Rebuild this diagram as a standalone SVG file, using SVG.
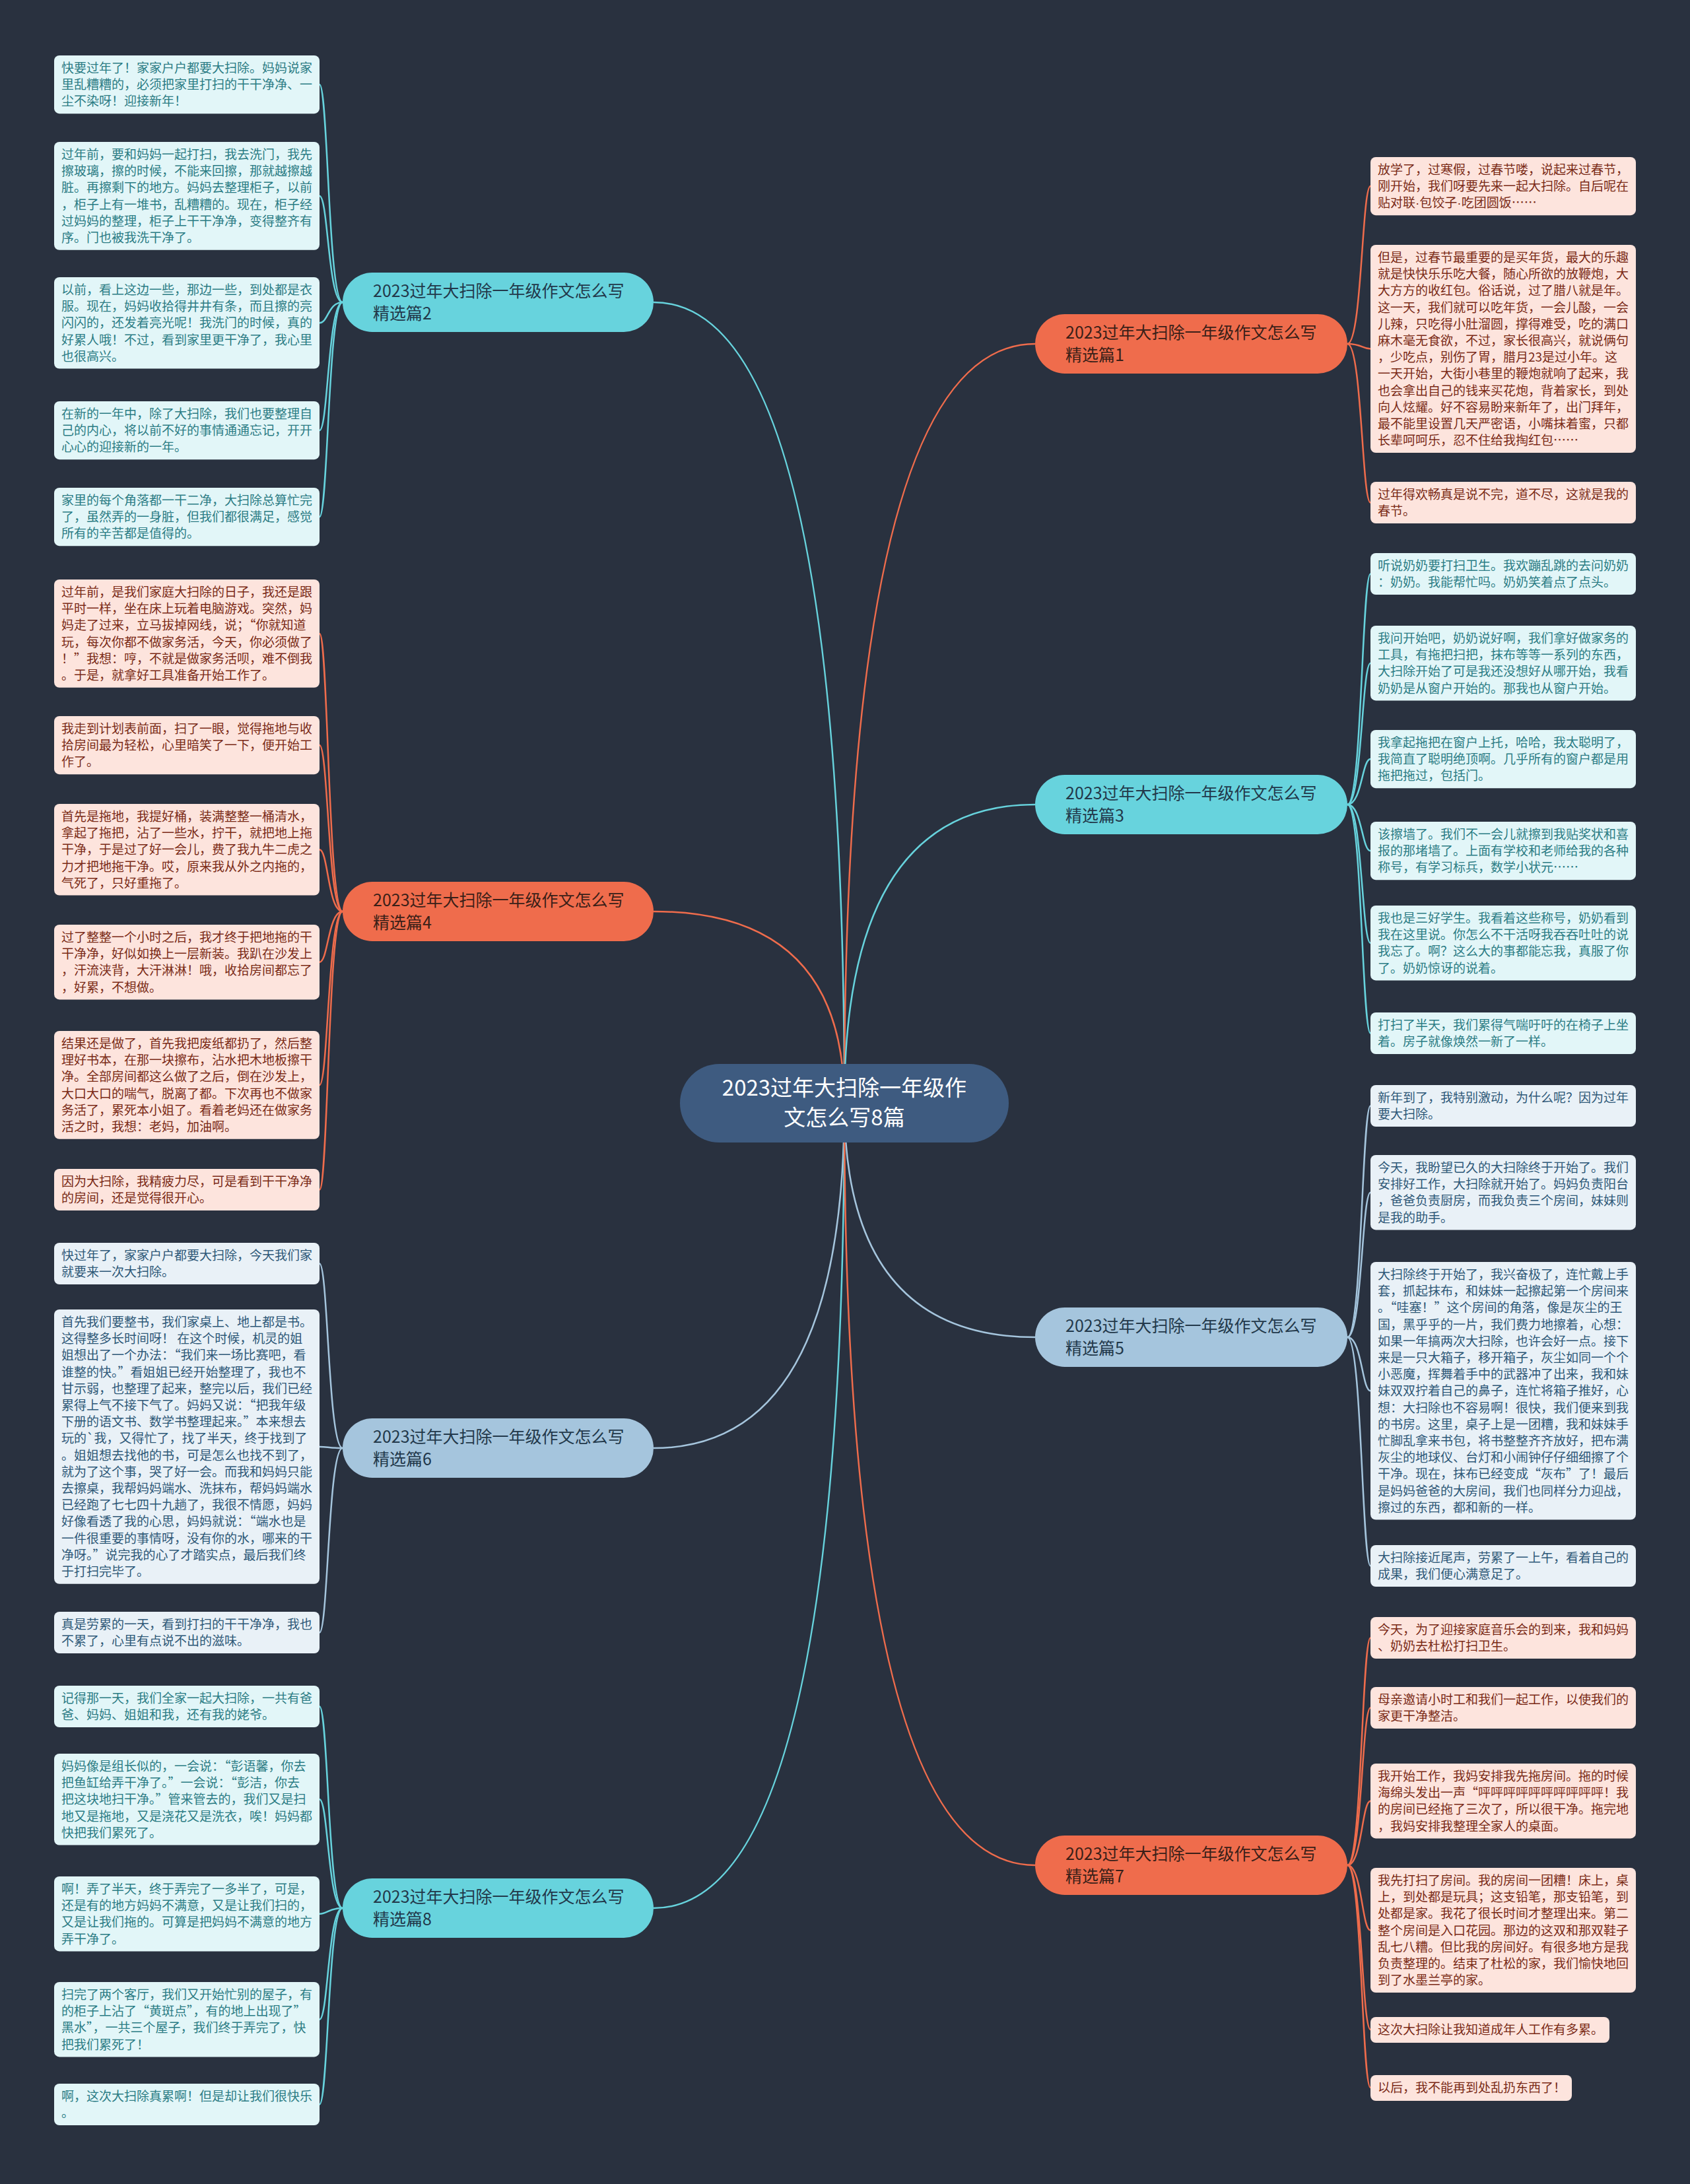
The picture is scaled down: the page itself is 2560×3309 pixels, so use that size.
<svg xmlns="http://www.w3.org/2000/svg" width="2560" height="3309" viewBox="0 0 2560 3309">
<style>
.t{font-family:"Noto Sans CJK SC","Noto Sans",sans-serif;font-size:19px}
.bt{font-family:"Noto Sans CJK SC","Noto Sans",sans-serif;font-size:25px}
.lc rect{fill:#e2f6f8}.lc text{fill:#2b7c84}
.lo rect{fill:#fde4dd}.lo text{fill:#7a2a16}
.lb rect{fill:#e9f1f7}.lb text{fill:#2e5877}
.bc rect{fill:#67d3dd}.bo rect{fill:#ef6c4c}.bb rect{fill:#a5c5dd}
.bc text,.bb text{fill:#22384a}.bo text{fill:#3a1f18}
.cn path{fill:none;stroke-width:2.5}
.cc{stroke:#67d3dd}.co{stroke:#ef6c4c}.cb{stroke:#a5c5dd}
.dot{font-family:"Liberation Sans",sans-serif}
</style>
<rect width="2560" height="3309" fill="#29313f"/>
<g id="connectors" class="cn">
<path class="cc" d="M1279,1671 Q1279,458 990,458"/>
<path class="co" d="M1279,1671 Q1279,1381 990,1381"/>
<path class="cb" d="M1279,1671 Q1279,2194 990,2194"/>
<path class="cc" d="M1279,1671 Q1279,2891 990,2891"/>
<path class="co" d="M1279,1671 Q1279,521 1568,521"/>
<path class="cc" d="M1279,1671 Q1279,1219 1568,1219"/>
<path class="cb" d="M1279,1671 Q1279,2026 1568,2026"/>
<path class="co" d="M1279,1671 Q1279,2826 1568,2826"/>
<path class="cc" d="M519,458 C497,458 497,128.1 484,128.1"/>
<path class="cc" d="M519,458 C497,458 497,296.9 484,296.9"/>
<path class="cc" d="M519,458 C497,458 497,489.3 484,489.3"/>
<path class="cc" d="M519,458 C497,458 497,652.1 484,652.1"/>
<path class="cc" d="M519,458 C497,458 497,783.1 484,783.1"/>
<path class="co" d="M519,1381 C497,1381 497,959.9 484,959.9"/>
<path class="co" d="M519,1381 C497,1381 497,1129.1 484,1129.1"/>
<path class="co" d="M519,1381 C497,1381 497,1287.3 484,1287.3"/>
<path class="co" d="M519,1381 C497,1381 497,1457.7 484,1457.7"/>
<path class="co" d="M519,1381 C497,1381 497,1643.9 484,1643.9"/>
<path class="co" d="M519,1381 C497,1381 497,1802.5 484,1802.5"/>
<path class="cb" d="M519,2194 C497,2194 497,1914.5 484,1914.5"/>
<path class="cb" d="M519,2194 C497,2194 497,2191.9 484,2191.9"/>
<path class="cb" d="M519,2194 C497,2194 497,2473.5 484,2473.5"/>
<path class="cc" d="M519,2891 C497,2891 497,2585.5 484,2585.5"/>
<path class="cc" d="M519,2891 C497,2891 497,2726.3 484,2726.3"/>
<path class="cc" d="M519,2891 C497,2891 497,2899.7 484,2899.7"/>
<path class="cc" d="M519,2891 C497,2891 497,3059.7 484,3059.7"/>
<path class="cc" d="M519,2891 C497,2891 497,3188.5 484,3188.5"/>
<path class="co" d="M2041,521 C2063,521 2063,282.1 2076,282.1"/>
<path class="co" d="M2041,521 C2063,521 2063,528.5 2076,528.5"/>
<path class="co" d="M2041,521 C2063,521 2063,761.5 2076,761.5"/>
<path class="cc" d="M2041,1219 C2063,1219 2063,869.5 2076,869.5"/>
<path class="cc" d="M2041,1219 C2063,1219 2063,1004.7 2076,1004.7"/>
<path class="cc" d="M2041,1219 C2063,1219 2063,1150.1 2076,1150.1"/>
<path class="cc" d="M2041,1219 C2063,1219 2063,1289.1 2076,1289.1"/>
<path class="cc" d="M2041,1219 C2063,1219 2063,1428.7 2076,1428.7"/>
<path class="cc" d="M2041,1219 C2063,1219 2063,1565.5 2076,1565.5"/>
<path class="cb" d="M2041,2026 C2063,2026 2063,1675.5 2076,1675.5"/>
<path class="cb" d="M2041,2026 C2063,2026 2063,1806.7 2076,1806.7"/>
<path class="cb" d="M2041,2026 C2063,2026 2063,2107.3 2076,2107.3"/>
<path class="cb" d="M2041,2026 C2063,2026 2063,2372.5 2076,2372.5"/>
<path class="co" d="M2041,2826 C2063,2826 2063,2481.5 2076,2481.5"/>
<path class="co" d="M2041,2826 C2063,2826 2063,2587.5 2076,2587.5"/>
<path class="co" d="M2041,2826 C2063,2826 2063,2728.7 2076,2728.7"/>
<path class="co" d="M2041,2826 C2063,2826 2063,2924.5 2076,2924.5"/>
<path class="co" d="M2041,2826 C2063,2826 2063,3075 2076,3075"/>
<path class="co" d="M2041,2826 C2063,2826 2063,3163 2076,3163"/>
</g>

<g id="center"><rect x="1030" y="1612" width="498" height="119" rx="59.5" fill="#3e5b80"/>
<text font-family="Noto Sans CJK SC, Noto Sans, sans-serif" font-size="33" fill="#ffffff" text-anchor="middle"><tspan x="1279" y="1660">2023过年大扫除一年级作</tspan><tspan x="1279" y="1705">文怎么写8篇</tspan></text></g>

<g id="b2" class="bc"><rect x="519" y="413" width="471" height="90" rx="45"/><text class="bt"><tspan x="565" y="450">2023过年大扫除一年级作文怎么写</tspan><tspan x="565" y="484">精选篇2</tspan></text></g>
<g id="b4" class="bo"><rect x="519" y="1336" width="471" height="90" rx="45"/><text class="bt"><tspan x="565" y="1373">2023过年大扫除一年级作文怎么写</tspan><tspan x="565" y="1407">精选篇4</tspan></text></g>
<g id="b6" class="bb"><rect x="519" y="2149" width="471" height="90" rx="45"/><text class="bt"><tspan x="565" y="2186">2023过年大扫除一年级作文怎么写</tspan><tspan x="565" y="2220">精选篇6</tspan></text></g>
<g id="b8" class="bc"><rect x="519" y="2846" width="471" height="90" rx="45"/><text class="bt"><tspan x="565" y="2883">2023过年大扫除一年级作文怎么写</tspan><tspan x="565" y="2917">精选篇8</tspan></text></g>
<g id="b1" class="bo"><rect x="1568" y="476" width="473" height="90" rx="45"/><text class="bt"><tspan x="1614" y="513">2023过年大扫除一年级作文怎么写</tspan><tspan x="1614" y="547">精选篇1</tspan></text></g>
<g id="b3" class="bc"><rect x="1568" y="1174" width="473" height="90" rx="45"/><text class="bt"><tspan x="1614" y="1211">2023过年大扫除一年级作文怎么写</tspan><tspan x="1614" y="1245">精选篇3</tspan></text></g>
<g id="b5" class="bb"><rect x="1568" y="1981" width="473" height="90" rx="45"/><text class="bt"><tspan x="1614" y="2018">2023过年大扫除一年级作文怎么写</tspan><tspan x="1614" y="2052">精选篇5</tspan></text></g>
<g id="b7" class="bo"><rect x="1568" y="2781" width="473" height="90" rx="45"/><text class="bt"><tspan x="1614" y="2818">2023过年大扫除一年级作文怎么写</tspan><tspan x="1614" y="2852">精选篇7</tspan></text></g>

<g id="l2a" class="lc"><rect x="82" y="84" width="402" height="88.2" rx="8"/><text class="t" y="110"><tspan x="93">快要过年了！家家户户都要大扫除。妈妈说家</tspan><tspan x="93" dy="25.2">里乱糟糟的，必须把家里打扫的干干净净、一</tspan><tspan x="93" dy="25.2">尘不染呀！迎接新年！</tspan></text></g>
<g id="l2b" class="lc"><rect x="82" y="215" width="402" height="163.8" rx="8"/><text class="t" y="241"><tspan x="93">过年前，要和妈妈一起打扫，我去洗门，我先</tspan><tspan x="93" dy="25.2">擦玻璃，擦的时候，不能来回擦，那就越擦越</tspan><tspan x="93" dy="25.2">脏。再擦剩下的地方。妈妈去整理柜子，以前</tspan><tspan x="93" dy="25.2">，柜子上有一堆书，乱糟糟的。现在，柜子经</tspan><tspan x="93" dy="25.2">过妈妈的整理，柜子上干干净净，变得整齐有</tspan><tspan x="93" dy="25.2">序。门也被我洗干净了。</tspan></text></g>
<g id="l2c" class="lc"><rect x="82" y="420" width="402" height="138.6" rx="8"/><text class="t" y="446"><tspan x="93">以前，看上这边一些，那边一些，到处都是衣</tspan><tspan x="93" dy="25.2">服。现在，妈妈收拾得井井有条，而且擦的亮</tspan><tspan x="93" dy="25.2">闪闪的，还发着亮光呢！我洗门的时候，真的</tspan><tspan x="93" dy="25.2">好累人哦！不过，看到家里更干净了，我心里</tspan><tspan x="93" dy="25.2">也很高兴。</tspan></text></g>
<g id="l2d" class="lc"><rect x="82" y="608" width="402" height="88.2" rx="8"/><text class="t" y="634"><tspan x="93">在新的一年中，除了大扫除，我们也要整理自</tspan><tspan x="93" dy="25.2">己的内心，将以前不好的事情通通忘记，开开</tspan><tspan x="93" dy="25.2">心心的迎接新的一年。</tspan></text></g>
<g id="l2e" class="lc"><rect x="82" y="739" width="402" height="88.2" rx="8"/><text class="t" y="765"><tspan x="93">家里的每个角落都一干二净，大扫除总算忙完</tspan><tspan x="93" dy="25.2">了，虽然弄的一身脏，但我们都很满足，感觉</tspan><tspan x="93" dy="25.2">所有的辛苦都是值得的。</tspan></text></g>

<g id="l4a" class="lo"><rect x="82" y="878" width="402" height="163.8" rx="8"/><text class="t" y="904"><tspan x="93">过年前，是我们家庭大扫除的日子，我还是跟</tspan><tspan x="93" dy="25.2">平时一样，坐在床上玩着电脑游戏。突然，妈</tspan><tspan x="93" dy="25.2">妈走了过来，立马拔掉网线，说；“你就知道</tspan><tspan x="93" dy="25.2">玩，每次你都不做家务活，今天，你必须做了</tspan><tspan x="93" dy="25.2">！”我想：哼，不就是做家务活呗，难不倒我</tspan><tspan x="93" dy="25.2">。于是，就拿好工具准备开始工作了。</tspan></text></g>
<g id="l4b" class="lo"><rect x="82" y="1085" width="402" height="88.2" rx="8"/><text class="t" y="1111"><tspan x="93">我走到计划表前面，扫了一眼，觉得拖地与收</tspan><tspan x="93" dy="25.2">拾房间最为轻松，心里暗笑了一下，便开始工</tspan><tspan x="93" dy="25.2">作了。</tspan></text></g>
<g id="l4c" class="lo"><rect x="82" y="1218" width="402" height="138.6" rx="8"/><text class="t" y="1244"><tspan x="93">首先是拖地，我提好桶，装满整整一桶清水，</tspan><tspan x="93" dy="25.2">拿起了拖把，沾了一些水，拧干，就把地上拖</tspan><tspan x="93" dy="25.2">干净，于是过了好一会儿，费了我九牛二虎之</tspan><tspan x="93" dy="25.2">力才把地拖干净。哎，原来我从外之内拖的，</tspan><tspan x="93" dy="25.2">气死了，只好重拖了。</tspan></text></g>
<g id="l4d" class="lo"><rect x="82" y="1401" width="402" height="113.4" rx="8"/><text class="t" y="1427"><tspan x="93">过了整整一个小时之后，我才终于把地拖的干</tspan><tspan x="93" dy="25.2">干净净，好似如换上一层新装。我趴在沙发上</tspan><tspan x="93" dy="25.2">，汗流浃背，大汗淋淋！哦，收拾房间都忘了</tspan><tspan x="93" dy="25.2">，好累，不想做。</tspan></text></g>
<g id="l4e" class="lo"><rect x="82" y="1562" width="402" height="163.8" rx="8"/><text class="t" y="1588"><tspan x="93">结果还是做了，首先我把废纸都扔了，然后整</tspan><tspan x="93" dy="25.2">理好书本，在那一块擦布，沾水把木地板擦干</tspan><tspan x="93" dy="25.2">净。全部房间都这么做了之后，倒在沙发上，</tspan><tspan x="93" dy="25.2">大口大口的喘气，脱离了都。下次再也不做家</tspan><tspan x="93" dy="25.2">务活了，累死本小姐了。看着老妈还在做家务</tspan><tspan x="93" dy="25.2">活之时，我想：老妈，加油啊。</tspan></text></g>
<g id="l4f" class="lo"><rect x="82" y="1771" width="402" height="63" rx="8"/><text class="t" y="1797"><tspan x="93">因为大扫除，我精疲力尽，可是看到干干净净</tspan><tspan x="93" dy="25.2">的房间，还是觉得很开心。</tspan></text></g>

<g id="l6a" class="lb"><rect x="82" y="1883" width="402" height="63" rx="8"/><text class="t" y="1909"><tspan x="93">快过年了，家家户户都要大扫除，今天我们家</tspan><tspan x="93" dy="25.2">就要来一次大扫除。</tspan></text></g>
<g id="l6b" class="lb"><rect x="82" y="1984" width="402" height="415.8" rx="8"/><text class="t" y="2010"><tspan x="93">首先我们要整书，我们家桌上、地上都是书。</tspan><tspan x="93" dy="25.2">这得整多长时间呀！ 在这个时候，机灵的姐</tspan><tspan x="93" dy="25.2">姐想出了一个办法：“我们来一场比赛吧，看</tspan><tspan x="93" dy="25.2">谁整的快。”看姐姐已经开始整理了，我也不</tspan><tspan x="93" dy="25.2">甘示弱，也整理了起来，整完以后，我们已经</tspan><tspan x="93" dy="25.2">累得上气不接下气了。妈妈又说：“把我年级</tspan><tspan x="93" dy="25.2">下册的语文书、数学书整理起来。”本来想去</tspan><tspan x="93" dy="25.2">玩的`我，又得忙了，找了半天，终于找到了</tspan><tspan x="93" dy="25.2">。姐姐想去找他的书，可是怎么也找不到了，</tspan><tspan x="93" dy="25.2">就为了这个事，哭了好一会。而我和妈妈只能</tspan><tspan x="93" dy="25.2">去擦桌，我帮妈妈端水、洗抹布，帮妈妈端水</tspan><tspan x="93" dy="25.2">已经跑了七七四十九趟了，我很不情愿，妈妈</tspan><tspan x="93" dy="25.2">好像看透了我的心思，妈妈就说：“端水也是</tspan><tspan x="93" dy="25.2">一件很重要的事情呀，没有你的水，哪来的干</tspan><tspan x="93" dy="25.2">净呀。”说完我的心了才踏实点，最后我们终</tspan><tspan x="93" dy="25.2">于打扫完毕了。</tspan></text></g>
<g id="l6c" class="lb"><rect x="82" y="2442" width="402" height="63" rx="8"/><text class="t" y="2468"><tspan x="93">真是劳累的一天，看到打扫的干干净净，我也</tspan><tspan x="93" dy="25.2">不累了，心里有点说不出的滋味。</tspan></text></g>

<g id="l8a" class="lc"><rect x="82" y="2554" width="402" height="63" rx="8"/><text class="t" y="2580"><tspan x="93">记得那一天，我们全家一起大扫除，一共有爸</tspan><tspan x="93" dy="25.2">爸、妈妈、姐姐和我，还有我的姥爷。</tspan></text></g>
<g id="l8b" class="lc"><rect x="82" y="2657" width="402" height="138.6" rx="8"/><text class="t" y="2683"><tspan x="93">妈妈像是组长似的，一会说：“彭语馨，你去</tspan><tspan x="93" dy="25.2">把鱼缸给弄干净了。”一会说：“彭洁，你去</tspan><tspan x="93" dy="25.2">把这块地扫干净。”管来管去的，我们又是扫</tspan><tspan x="93" dy="25.2">地又是拖地，又是浇花又是洗衣，唉！妈妈都</tspan><tspan x="93" dy="25.2">快把我们累死了。</tspan></text></g>
<g id="l8c" class="lc"><rect x="82" y="2843" width="402" height="113.4" rx="8"/><text class="t" y="2869"><tspan x="93">啊！弄了半天，终于弄完了一多半了，可是，</tspan><tspan x="93" dy="25.2">还是有的地方妈妈不满意，又是让我们扫的，</tspan><tspan x="93" dy="25.2">又是让我们拖的。可算是把妈妈不满意的地方</tspan><tspan x="93" dy="25.2">弄干净了。</tspan></text></g>
<g id="l8d" class="lc"><rect x="82" y="3003" width="402" height="113.4" rx="8"/><text class="t" y="3029"><tspan x="93">扫完了两个客厅，我们又开始忙别的屋子，有</tspan><tspan x="93" dy="25.2">的柜子上沾了“黄斑点”，有的地上出现了”</tspan><tspan x="93" dy="25.2">黑水”，一共三个屋子，我们终于弄完了，快</tspan><tspan x="93" dy="25.2">把我们累死了！</tspan></text></g>
<g id="l8e" class="lc"><rect x="82" y="3157" width="402" height="63" rx="8"/><text class="t" y="3183"><tspan x="93">啊，这次大扫除真累啊！但是却让我们很快乐</tspan><tspan x="93" dy="25.2">。</tspan></text></g>

<g id="r1a" class="lo"><rect x="2076" y="238" width="402" height="88.2" rx="8"/><text class="t" y="264"><tspan x="2087">放学了，过寒假，过春节喽，说起来过春节，</tspan><tspan x="2087" dy="25.2">刚开始，我们呀要先来一起大扫除。自后呢在</tspan><tspan x="2087" dy="25.2">贴对联<tspan class="dot">·</tspan>包饺子<tspan class="dot">·</tspan>吃团圆饭……</tspan></text></g>
<g id="r1b" class="lo"><rect x="2076" y="371" width="402" height="315" rx="8"/><text class="t" y="397"><tspan x="2087">但是，过春节最重要的是买年货，最大的乐趣</tspan><tspan x="2087" dy="25.2">就是快快乐乐吃大餐，随心所欲的放鞭炮，大</tspan><tspan x="2087" dy="25.2">大方方的收红包。俗话说，过了腊八就是年。</tspan><tspan x="2087" dy="25.2">这一天，我们就可以吃年货，一会儿酸，一会</tspan><tspan x="2087" dy="25.2">儿辣，只吃得小肚溜圆，撑得难受，吃的满口</tspan><tspan x="2087" dy="25.2">麻木毫无食欲，不过，家长很高兴，就说俩句</tspan><tspan x="2087" dy="25.2">，少吃点，别伤了胃，腊月23是过小年。这</tspan><tspan x="2087" dy="25.2">一天开始，大街小巷里的鞭炮就响了起来，我</tspan><tspan x="2087" dy="25.2">也会拿出自己的钱来买花炮，背着家长，到处</tspan><tspan x="2087" dy="25.2">向人炫耀。好不容易盼来新年了，出门拜年，</tspan><tspan x="2087" dy="25.2">最不能里设置几天严密语，小嘴抹着蜜，只都</tspan><tspan x="2087" dy="25.2">长辈呵呵乐，忍不住给我掏红包……</tspan></text></g>
<g id="r1c" class="lo"><rect x="2076" y="730" width="402" height="63" rx="8"/><text class="t" y="756"><tspan x="2087">过年得欢畅真是说不完，道不尽，这就是我的</tspan><tspan x="2087" dy="25.2">春节。</tspan></text></g>

<g id="r3a" class="lc"><rect x="2076" y="838" width="402" height="63" rx="8"/><text class="t" y="864"><tspan x="2087">听说奶奶要打扫卫生。我欢蹦乱跳的去问奶奶</tspan><tspan x="2087" dy="25.2">：奶奶。我能帮忙吗。奶奶笑着点了点头。</tspan></text></g>
<g id="r3b" class="lc"><rect x="2076" y="948" width="402" height="113.4" rx="8"/><text class="t" y="974"><tspan x="2087">我问开始吧，奶奶说好啊，我们拿好做家务的</tspan><tspan x="2087" dy="25.2">工具，有拖把扫把，抹布等等一系列的东西，</tspan><tspan x="2087" dy="25.2">大扫除开始了可是我还没想好从哪开始，我看</tspan><tspan x="2087" dy="25.2">奶奶是从窗户开始的。那我也从窗户开始。</tspan></text></g>
<g id="r3c" class="lc"><rect x="2076" y="1106" width="402" height="88.2" rx="8"/><text class="t" y="1132"><tspan x="2087">我拿起拖把在窗户上托，哈哈，我太聪明了，</tspan><tspan x="2087" dy="25.2">我简直了聪明绝顶啊。几乎所有的窗户都是用</tspan><tspan x="2087" dy="25.2">拖把拖过，包括门。</tspan></text></g>
<g id="r3d" class="lc"><rect x="2076" y="1245" width="402" height="88.2" rx="8"/><text class="t" y="1271"><tspan x="2087">该擦墙了。我们不一会儿就擦到我贴奖状和喜</tspan><tspan x="2087" dy="25.2">报的那堵墙了。上面有学校和老师给我的各种</tspan><tspan x="2087" dy="25.2">称号，有学习标兵，数学小状元……</tspan></text></g>
<g id="r3e" class="lc"><rect x="2076" y="1372" width="402" height="113.4" rx="8"/><text class="t" y="1398"><tspan x="2087">我也是三好学生。我看着这些称号，奶奶看到</tspan><tspan x="2087" dy="25.2">我在这里说。你怎么不干活呀我吞吞吐吐的说</tspan><tspan x="2087" dy="25.2">我忘了。啊？这么大的事都能忘我，真服了你</tspan><tspan x="2087" dy="25.2">了。奶奶惊讶的说着。</tspan></text></g>
<g id="r3f" class="lc"><rect x="2076" y="1534" width="402" height="63" rx="8"/><text class="t" y="1560"><tspan x="2087">打扫了半天，我们累得气喘吁吁的在椅子上坐</tspan><tspan x="2087" dy="25.2">着。房子就像焕然一新了一样。</tspan></text></g>

<g id="r5a" class="lb"><rect x="2076" y="1644" width="402" height="63" rx="8"/><text class="t" y="1670"><tspan x="2087">新年到了，我特别激动，为什么呢？因为过年</tspan><tspan x="2087" dy="25.2">要大扫除。</tspan></text></g>
<g id="r5b" class="lb"><rect x="2076" y="1750" width="402" height="113.4" rx="8"/><text class="t" y="1776"><tspan x="2087">今天，我盼望已久的大扫除终于开始了。我们</tspan><tspan x="2087" dy="25.2">安排好工作，大扫除就开始了。妈妈负责阳台</tspan><tspan x="2087" dy="25.2">，爸爸负责厨房，而我负责三个房间，妹妹则</tspan><tspan x="2087" dy="25.2">是我的助手。</tspan></text></g>
<g id="r5c" class="lb"><rect x="2076" y="1912" width="402" height="390.6" rx="8"/><text class="t" y="1938"><tspan x="2087">大扫除终于开始了，我兴奋极了，连忙戴上手</tspan><tspan x="2087" dy="25.2">套，抓起抹布，和妹妹一起擦起第一个房间来</tspan><tspan x="2087" dy="25.2">。“哇塞！”这个房间的角落，像是灰尘的王</tspan><tspan x="2087" dy="25.2">国，黑乎乎的一片，我们费力地擦着，心想：</tspan><tspan x="2087" dy="25.2">如果一年搞两次大扫除，也许会好一点。接下</tspan><tspan x="2087" dy="25.2">来是一只大箱子，移开箱子，灰尘如同一个个</tspan><tspan x="2087" dy="25.2">小恶魔，挥舞着手中的武器冲了出来，我和妹</tspan><tspan x="2087" dy="25.2">妹双双拧着自己的鼻子，连忙将箱子推好，心</tspan><tspan x="2087" dy="25.2">想：大扫除也不容易啊！很快，我们便来到我</tspan><tspan x="2087" dy="25.2">的书房。这里，桌子上是一团糟，我和妹妹手</tspan><tspan x="2087" dy="25.2">忙脚乱拿来书包，将书整整齐齐放好，把布满</tspan><tspan x="2087" dy="25.2">灰尘的地球仪、台灯和小闹钟仔仔细细擦了个</tspan><tspan x="2087" dy="25.2">干净。现在，抹布已经变成“灰布”了！最后</tspan><tspan x="2087" dy="25.2">是妈妈爸爸的大房间，我们也同样分力迎战，</tspan><tspan x="2087" dy="25.2">擦过的东西，都和新的一样。</tspan></text></g>
<g id="r5d" class="lb"><rect x="2076" y="2341" width="402" height="63" rx="8"/><text class="t" y="2367"><tspan x="2087">大扫除接近尾声，劳累了一上午，看着自己的</tspan><tspan x="2087" dy="25.2">成果，我们便心满意足了。</tspan></text></g>

<g id="r7a" class="lo"><rect x="2076" y="2450" width="402" height="63" rx="8"/><text class="t" y="2476"><tspan x="2087">今天，为了迎接家庭音乐会的到来，我和妈妈</tspan><tspan x="2087" dy="25.2">、奶奶去杜松打扫卫生。</tspan></text></g>
<g id="r7b" class="lo"><rect x="2076" y="2556" width="402" height="63" rx="8"/><text class="t" y="2582"><tspan x="2087">母亲邀请小时工和我们一起工作，以使我们的</tspan><tspan x="2087" dy="25.2">家更干净整洁。</tspan></text></g>
<g id="r7c" class="lo"><rect x="2076" y="2672" width="402" height="113.4" rx="8"/><text class="t" y="2698"><tspan x="2087">我开始工作，我妈安排我先拖房间。拖的时候</tspan><tspan x="2087" dy="25.2">海绵头发出一声“呯呯呯呯呯呯呯呯呯呯！我</tspan><tspan x="2087" dy="25.2">的房间已经拖了三次了，所以很干净。拖完地</tspan><tspan x="2087" dy="25.2">，我妈安排我整理全家人的桌面。</tspan></text></g>
<g id="r7d" class="lo"><rect x="2076" y="2830" width="402" height="189" rx="8"/><text class="t" y="2856"><tspan x="2087">我先打扫了房间。我的房间一团糟！床上，桌</tspan><tspan x="2087" dy="25.2">上，到处都是玩具；这支铅笔，那支铅笔，到</tspan><tspan x="2087" dy="25.2">处都是家。我花了很长时间才整理出来。第二</tspan><tspan x="2087" dy="25.2">整个房间是入口花园。那边的这双和那双鞋子</tspan><tspan x="2087" dy="25.2">乱七八糟。但比我的房间好。有很多地方是我</tspan><tspan x="2087" dy="25.2">负责整理的。结束了杜松的家，我们愉快地回</tspan><tspan x="2087" dy="25.2">到了水墨兰亭的家。</tspan></text></g>
<g id="r7e" class="lo"><rect x="2076" y="3056" width="362" height="39" rx="8"/><text class="t" y="3082"><tspan x="2087">这次大扫除让我知道成年人工作有多累。</tspan></text></g>
<g id="r7f" class="lo"><rect x="2076" y="3144" width="305" height="39" rx="8"/><text class="t" y="3170"><tspan x="2087">以后，我不能再到处乱扔东西了！</tspan></text></g>
</svg>
